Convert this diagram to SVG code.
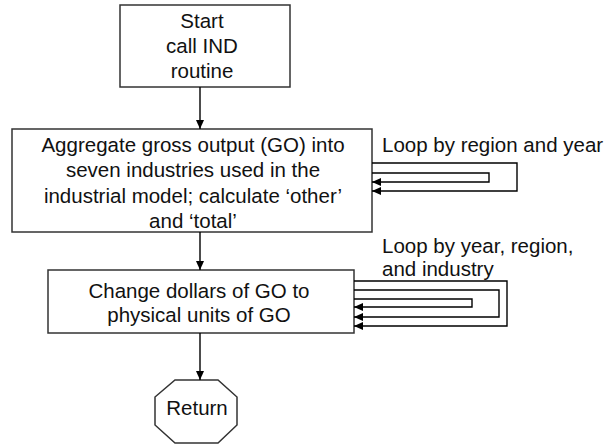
<svg xmlns="http://www.w3.org/2000/svg" width="611" height="446" viewBox="0 0 611 446">
<style>
.box{fill:#fff;stroke:#333;stroke-width:1.5}
.t{font-family:"Liberation Sans",Arial,sans-serif;font-size:20.5px;fill:#111;text-anchor:middle}
.l{font-family:"Liberation Sans",Arial,sans-serif;font-size:20.5px;fill:#111}
.c{fill:none;stroke:#000;stroke-width:1.4}
</style>
<defs>
<marker id="ah" markerWidth="9" markerHeight="8" refX="9" refY="4" orient="auto" markerUnits="userSpaceOnUse">
<path d="M0,0 L9,4 L0,8 Z" fill="#000"/>
</marker>
</defs>
<rect width="611" height="446" fill="#fff"/>
<g id="start">
<rect class="box" x="120" y="5" width="170" height="82"/>
<text class="t" x="202" y="28">Start</text>
<text class="t" x="202" y="53">call IND</text>
<text class="t" x="202" y="78">routine</text>
</g>
<g id="aggregate">
<rect class="box" x="12" y="129" width="360" height="103"/>
<text class="t" x="193" y="152">Aggregate gross output (GO) into</text>
<text class="t" x="193" y="177">seven industries used in the</text>
<text class="t" x="193" y="203">industrial model; calculate ‘other’</text>
<text class="t" x="193" y="228">and ‘total’</text>
</g>
<g id="change">
<rect class="box" x="48" y="270" width="306" height="63"/>
<text class="t" x="199" y="298">Change dollars of GO to</text>
<text class="t" x="199" y="322">physical units of GO</text>
</g>
<g id="return">
<polygon class="box" points="175,380 218,380 237,397 237,425 218,443 175,443 155,425 155,397"/>
<text class="t" x="197" y="415">Return</text>
</g>
<g id="loop-labels">
<text class="l" x="382" y="152">Loop by region and year</text>
<text class="l" x="382" y="253">Loop by year, region,</text>
<text class="l" x="382" y="276">and industry</text>
</g>
<g id="connectors">
<path class="c" d="M200,87 V129" marker-end="url(#ah)"/>
<path class="c" d="M200,232 V270" marker-end="url(#ah)"/>
<path class="c" d="M200,333 V380" marker-end="url(#ah)"/>
<path class="c" d="M372,173 H489 V182 H372" marker-end="url(#ah)"/>
<path class="c" d="M372,163 H517 V191 H372" marker-end="url(#ah)"/>
<path class="c" d="M354,299 H472 V307 H354" marker-end="url(#ah)"/>
<path class="c" d="M354,290 H499 V317 H354" marker-end="url(#ah)"/>
<path class="c" d="M354,281 H507 V326 H354" marker-end="url(#ah)"/>
</g>
</svg>
